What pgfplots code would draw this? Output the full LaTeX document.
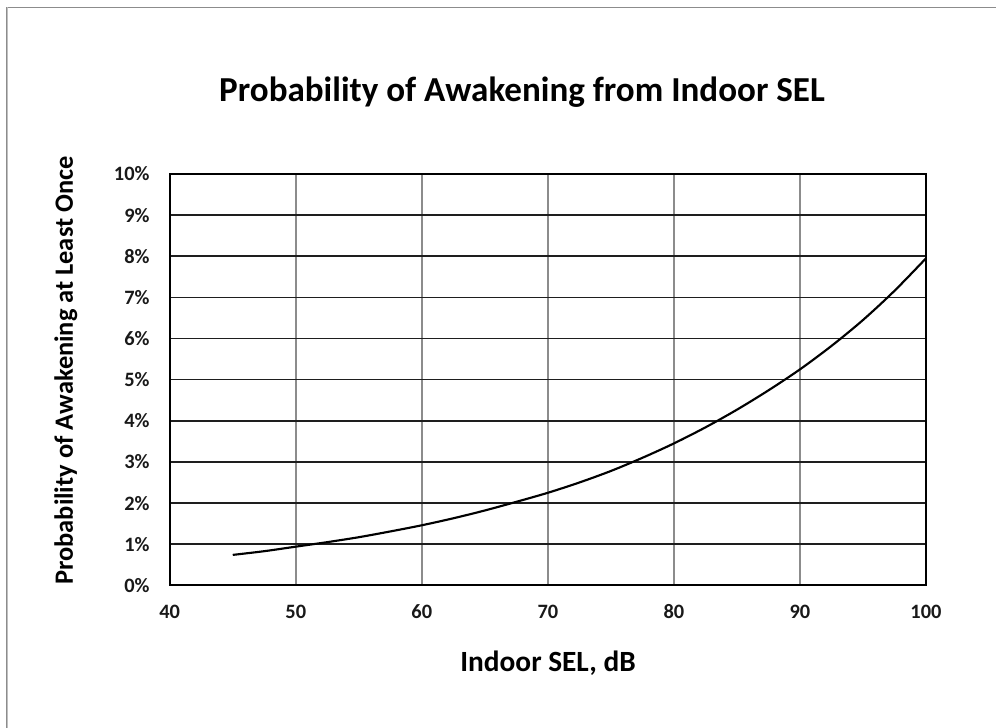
\documentclass[border=0pt]{standalone}
\usepackage{pgfplots}
\pgfplotsset{compat=1.18}
\usepackage{fontspec}
\setmainfont{Carlito}
\definecolor{vgrid}{HTML}{8C8C8C}
\definecolor{hgrid}{HTML}{1E1E1E}
\begin{document}
\begin{tikzpicture}
\useasboundingbox (-127.3pt,-106.3pt) rectangle (619.7pt,439pt);
\draw[color=black!45, line width=1.2pt] (-122pt,-130pt) -- (-122pt,433.4pt) -- (640pt,433.4pt);
\draw[color=black!25, line width=0.5pt] (-122pt,-130pt) -- (-122pt,433.4pt);
\begin{axis}[
  at={(0pt,0pt)}, anchor=south west,
  scale only axis,
  width=567.2pt, height=308.5pt,
  xmin=40, xmax=100, ymin=0, ymax=10,
  xtick={40,50,...,100}, ytick={0,1,...,10},
  major tick length=0pt,
  axis line style={black, line width=1.3pt},
  xmajorgrids, ymajorgrids,
  x grid style={vgrid, line width=1.1pt},
  y grid style={hgrid, line width=1.2pt},
  /pgf/number format/assume math mode=true,
  tick label style={font=\fontsize{15.3}{17}\selectfont\bfseries, color=black!90},
  yticklabel={\pgfmathprintnumber{\tick}\%},
  yticklabel style={anchor=east, inner sep=0pt, xshift=-15pt},
  xticklabel style={anchor=base, inner sep=0pt, yshift=-24.6pt},
]
\addplot[black, line width=1.6pt, smooth] coordinates {
(45,0.74) (47.5,0.83) (50,0.94) (52.5,1.05) (55,1.17) (57.5,1.31)
(60,1.46) (62.5,1.63) (65,1.82) (67.5,2.03) (70,2.25) (72.5,2.50)
(75,2.78) (77.5,3.10) (80,3.45) (82.5,3.84) (85,4.27) (87.5,4.74)
(90,5.25) (92.5,5.82) (95,6.45) (97.5,7.16) (100,7.95)
};
\end{axis}
\node[anchor=base, font=\fontsize{26.3}{30}\selectfont\bfseries] at (264.2pt,362.7pt) {Probability of Awakening from Indoor SEL};
\node[rotate=90, font=\fontsize{19.8}{23}\selectfont\bfseries] at (-78pt,161.1pt) {Probability of Awakening at Least Once};
\node[anchor=base, font=\fontsize{22}{26}\selectfont\bfseries] at (283.7pt,-65pt) {Indoor SEL, dB};
\end{tikzpicture}
\end{document}
